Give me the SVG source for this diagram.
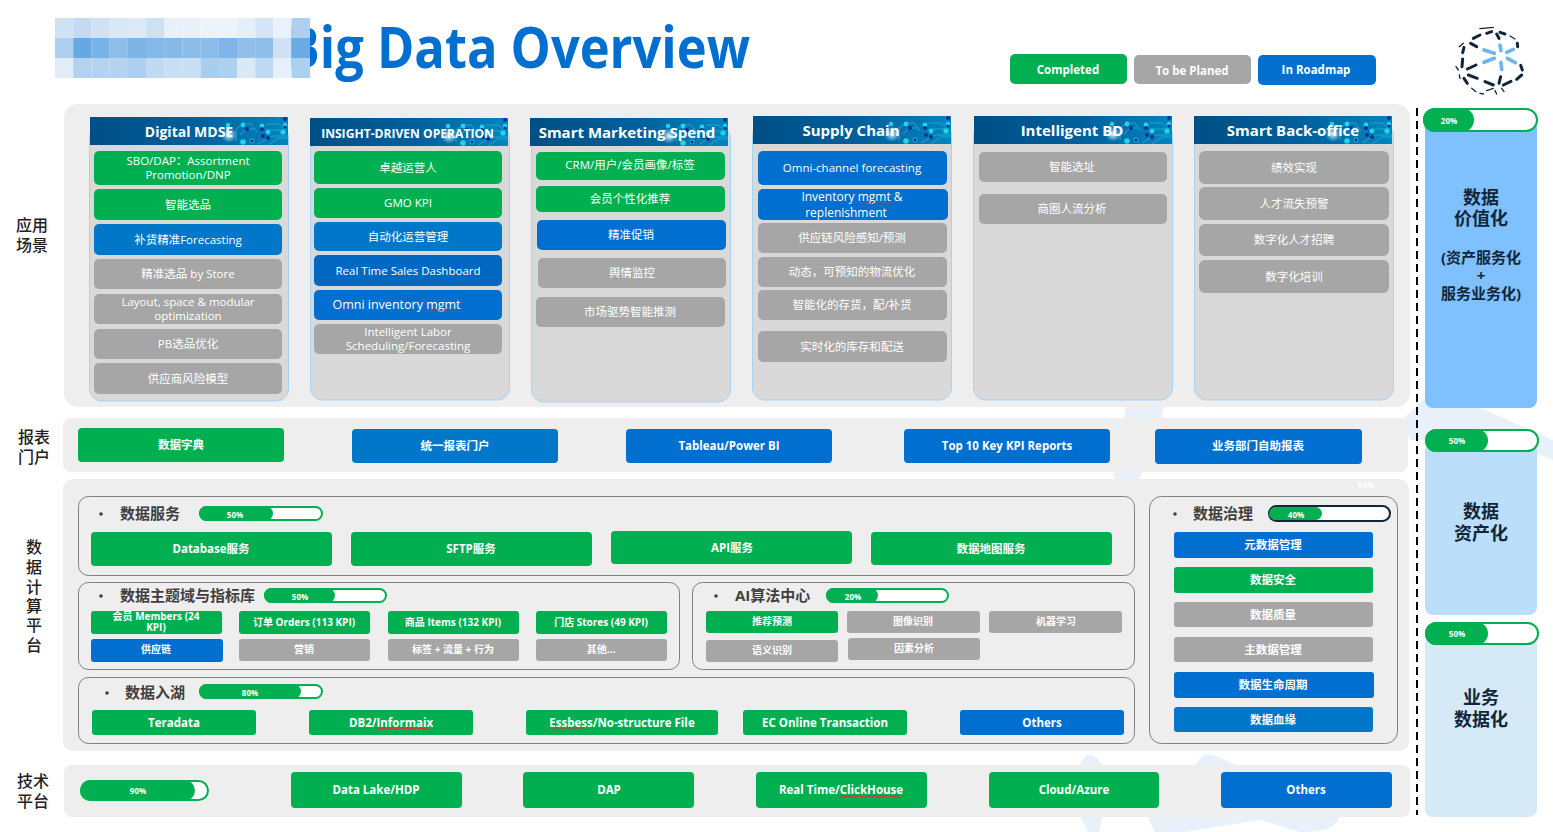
<svg xmlns="http://www.w3.org/2000/svg" xmlns:xlink="http://www.w3.org/1999/xlink" width="1553" height="832" viewBox="0 0 1553 832">
<style>
text{font-family:"Open Sans","Noto Sans CJK SC",sans-serif;text-anchor:middle;dominant-baseline:central;transform:translateY(-1px)}
.t{fill:#fff;font-size:11.5px}
.b{fill:#fff;font-size:11.5px;font-weight:700}
.s{fill:#fff;font-size:10px;font-weight:700}
.h{fill:#fff;font-size:15px;font-weight:700}
.lab{fill:#222;font-size:16px;font-weight:500}
.sec{fill:#404040;font-size:15px;font-weight:700;text-anchor:start}
.dot{fill:#404040}
.side{fill:#12263a;font-size:18px;font-weight:700}
.g{fill:#00b050}.e{fill:#a6a6a6}.u{fill:#006fd0}.c{fill:#0077c8}
.panel{fill:#eeeeee}
.col{fill:#d9d9d9;stroke:#a3d4f5;stroke-width:1}
.box{fill:none;stroke:#808080;stroke-width:1}
.bar{fill:#fff;stroke:#00b050;stroke-width:2}
.pct{fill:#fff;font-size:8px;font-weight:700}
.sq{fill:none;stroke:#e03030;stroke-width:1}
.d1{stroke:#12263a;stroke-width:9;stroke-linecap:round;fill:none}
.d0{stroke:#12263a;stroke-width:4;stroke-linecap:round;fill:none}
.d2{stroke:#6fb6ea;stroke-width:11;stroke-linecap:round;fill:none}
.wm{fill:#e8f1f9}
</style>
<defs>
<linearGradient id="hg" x1="0" x2="1" y1="0" y2="0"><stop offset="0" stop-color="#004f85"/><stop offset=".55" stop-color="#00609c"/><stop offset="1" stop-color="#0085bf"/></linearGradient>
<radialGradient id="gl"><stop offset="0" stop-color="#fff" stop-opacity=".95"/><stop offset="1" stop-color="#9fe0ff" stop-opacity="0"/></radialGradient>
<g id="circuit">
<rect width="198" height="28" fill="url(#hg)"/>
<g fill="none" stroke="#19a9d0" stroke-width="1"><path d="M146 24V12l7-5h8l6 8M150 18l6-6h8M168 27l14-8h16M178 28l10-7h10M176 7h12l8 6M180 13h14"/></g>
<g fill="#1fd5e8"><circle cx="138" cy="8" r="2.200"/><circle cx="153" cy="8" r="2.400"/><circle cx="172" cy="9" r="2.400"/><circle cx="178" cy="15" r="2.400"/><circle cx="193" cy="15" r="2.600"/><circle cx="153" cy="25" r="2.800"/><circle cx="195" cy="8" r="2.200"/><circle cx="162" cy="24" r="2.400"/></g>
<g fill="#0a2f9a"><circle cx="157" cy="12" r="2"/><circle cx="172" cy="12" r="2"/><circle cx="173" cy="19" r="2"/><circle cx="178" cy="21" r="2"/><circle cx="162" cy="24" r="1.700"/><circle cx="195" cy="2" r="2"/><circle cx="195" cy="10" r="1.600"/></g>
<circle cx="139" cy="18" r="8" fill="url(#gl)"/>
</g>
<path id="squig" d="M0 1l2-1.500 2 1.500 2-1.500 2 1.500 2-1.500 2 1.500 2-1.500 2 1.500 2-1.500 2 1.500 2-1.500 2 1.500 2-1.500 2 1.500 2-1.500 2 1.500 2-1.500 2 1.500 2-1.500 2 1.500 2-1.500 2 1.500"/>
</defs>
<rect width="1553" height="832" fill="#fff"/>

<g id="watermark">
<path class="wm" d="M1127 400H1165L1160 425 1140 478C1130 482 1118 482 1113 476Z"/>
<path class="wm" d="M1402 420 1425 398 1483 409 1553 440V460L1500 440H1410Z"/>
<path class="wm" d="M1078 770C1085 750 1095 750 1105 770V800L1099 832H1088L1078 812Z"/>
<path class="wm" d="M1195 770C1198 752 1210 752 1225 760L1340 812C1340 825 1330 832 1300 832L1260 820 1185 832H1155L1145 812Z"/>
</g>

<g id="title">
<g transform="translate(750 47) scale(.888 1)"><text x="0" y="0" style="text-anchor:end;fill:#006fd0;font-size:57px;font-weight:700;font-family:'Open Sans',sans-serif">Big Data Overview</text></g>
<g id="mosaic">
<rect x="55" y="18" width="18.300" height="20" fill="#cfe1f4"/><rect x="73.200" y="18" width="18.300" height="20" fill="#c4daf3"/><rect x="91.400" y="18" width="18.300" height="20" fill="#cfe2f5"/><rect x="109.600" y="18" width="18.300" height="20" fill="#d9e8f6"/><rect x="127.800" y="18" width="18.300" height="20" fill="#dde9f7"/><rect x="146" y="18" width="18.300" height="20" fill="#cde1f5"/><rect x="164.200" y="18" width="18.300" height="20" fill="#e8f1fa"/><rect x="182.400" y="18" width="18.300" height="20" fill="#e8f1fa"/><rect x="200.600" y="18" width="18.300" height="20" fill="#ecf4fb"/><rect x="218.800" y="18" width="18.300" height="20" fill="#ecf4fb"/><rect x="237" y="18" width="18.300" height="20" fill="#e4eff9"/><rect x="255.200" y="18" width="18.300" height="20" fill="#d3e5f6"/><rect x="273.400" y="18" width="18.300" height="20" fill="#e9f2fb"/><rect x="291.600" y="18" width="18.400" height="20" fill="#aecfef"/>
<rect x="55" y="38" width="18.300" height="20" fill="#aecfef"/><rect x="73.200" y="38" width="18.300" height="20" fill="#66a9e2"/><rect x="91.400" y="38" width="18.300" height="20" fill="#7ab4e6"/><rect x="109.600" y="38" width="18.300" height="20" fill="#8fbde9"/><rect x="127.800" y="38" width="18.300" height="20" fill="#7cb5e6"/><rect x="146" y="38" width="18.300" height="20" fill="#84b9e8"/><rect x="164.200" y="38" width="18.300" height="20" fill="#84b9e8"/><rect x="182.400" y="38" width="18.300" height="20" fill="#8cbde8"/><rect x="200.600" y="38" width="18.300" height="20" fill="#8cbde8"/><rect x="218.800" y="38" width="18.300" height="20" fill="#80b6e7"/><rect x="237" y="38" width="18.300" height="20" fill="#90bfe9"/><rect x="255.200" y="38" width="18.300" height="20" fill="#8fbee9"/><rect x="273.400" y="38" width="18.300" height="20" fill="#cfe1f5"/><rect x="291.600" y="38" width="18.400" height="20" fill="#6aabe3"/>
<rect x="55" y="58" width="18.300" height="20" fill="#e0ecf8"/><rect x="73.200" y="58" width="18.300" height="20" fill="#b3d2f0"/><rect x="91.400" y="58" width="18.300" height="20" fill="#b5d3f0"/><rect x="109.600" y="58" width="18.300" height="20" fill="#b5d3f0"/><rect x="127.800" y="58" width="18.300" height="20" fill="#aecff0"/><rect x="146" y="58" width="18.300" height="20" fill="#c0daf2"/><rect x="164.200" y="58" width="18.300" height="20" fill="#c8def3"/><rect x="182.400" y="58" width="18.300" height="20" fill="#c8def3"/><rect x="200.600" y="58" width="18.300" height="20" fill="#a8cdee"/><rect x="218.800" y="58" width="18.300" height="20" fill="#acd0ef"/><rect x="237" y="58" width="18.300" height="20" fill="#dbe9f7"/><rect x="255.200" y="58" width="18.300" height="20" fill="#bfd9f2"/><rect x="273.400" y="58" width="18.300" height="20" fill="#e5f0fa"/><rect x="291.600" y="58" width="18.400" height="20" fill="#acd0ef"/>
</g>
</g>

<g id="legend">
<g id="legend-completed"><rect class="g" x="1010" y="54" width="117" height="30" rx="5"/><text class="b" x="1068" y="70">Completed</text></g>
<g id="legend-planed"><rect class="e" x="1134" y="55" width="117" height="29" rx="5"/><text class="b" x="1192" y="71">To be Planed</text></g>
<g id="legend-roadmap"><rect class="u" x="1258" y="55" width="118" height="30" rx="5"/><text class="b" x="1316" y="70">In Roadmap</text></g>
</g>

<g id="logo" transform="translate(1440 20) scale(.3333)">
<path class="d2" d="M180 75 183 92M200 97 220 88M202 115 226 128M183 127 185 148M132 127 163 115M132 90 163 100"/>
<path class="d1" d="M100 55 120 45M140 40 155 35M170 42 177 55M180 37 195 42M232 70 233 80M92 70 110 80M72 82 68 98M68 117 66 140M82 147 108 135M85 165 112 175M72 175 82 190M135 185 160 195M182 170 177 190M190 195 213 184M230 178 245 165M242 136 247 150"/>
<path class="d0" d="M210 48 225 57M58 80 70 70M48 140 55 150M58 165 60 175M140 212 160 205M165 212 170 222M95 205 108 215M185 205 192 215M120 26 160 22M120 220 130 222"/>
</g>

<g id="side-labels">
<g id="lab-app"><text class="lab" x="32" y="226">应用</text><text class="lab" x="32" y="246">场景</text></g>
<g id="lab-report"><text class="lab" x="34" y="438">报表</text><text class="lab" x="34" y="458">门户</text></g>
<g id="lab-compute"><text class="lab" x="34" y="548">数</text><text class="lab" x="34" y="568">据</text><text class="lab" x="34" y="588">计</text><text class="lab" x="34" y="607">算</text><text class="lab" x="34" y="626">平</text><text class="lab" x="34" y="646">台</text></g>
<g id="lab-tech"><text class="lab" x="33" y="782">技术</text><text class="lab" x="33" y="802">平台</text></g>
</g>

<rect id="panel-app" class="panel" x="64" y="104" width="1346" height="303" rx="14"/>
<rect id="panel-report" class="panel" x="63" y="418" width="1345" height="54" rx="8"/>
<rect id="panel-platform" class="panel" x="63" y="479" width="1346" height="272" rx="10"/>
<rect id="panel-tech" class="panel" x="64" y="765" width="1346" height="52" rx="8"/>

<g id="col-1">
<rect class="col" x="89.500" y="125" width="199" height="276" rx="12"/><use xlink:href="#circuit" href="#circuit" x="90" y="117"/><text class="h" x="189" y="132" style="font-size:14px">Digital MDSE</text>
<rect class="g" x="94" y="151" width="188" height="34" rx="5"/><text class="t" x="188" y="161">SBO/DAP：Assortment</text><text class="t" x="188" y="175">Promotion/DNP</text>
<rect class="g" x="94" y="189" width="188" height="31" rx="5"/><text class="t" x="188" y="205">智能选品</text>
<rect class="c" x="94" y="224" width="188" height="31" rx="5"/><text class="t" x="188" y="240">补货精准Forecasting</text>
<rect class="e" x="94" y="259" width="188" height="30" rx="5"/><text class="t" x="188" y="274">精准选品 by Store</text>
<rect class="e" x="94" y="294" width="188" height="30" rx="5"/><text class="t" x="188" y="302">Layout, space &amp; modular</text><text class="t" x="188" y="316">optimization</text>
<rect class="e" x="94" y="329" width="188" height="30" rx="5"/><text class="t" x="188" y="344">PB选品优化</text>
<rect class="e" x="94" y="363" width="188" height="31" rx="5"/><text class="t" x="188" y="379">供应商风险模型</text>
</g>

<g id="col-2">
<rect class="col" x="310.500" y="126" width="199" height="274" rx="12"/><use xlink:href="#circuit" href="#circuit" x="310" y="118"/><text class="h" x="407.500" y="134" style="font-size:12.100px">INSIGHT-DRIVEN OPERATION</text>
<rect class="g" x="314" y="151" width="188" height="33" rx="5"/><text class="t" x="408" y="168">卓越运营人</text>
<rect class="g" x="314" y="188" width="188" height="30" rx="5"/><text class="t" x="408" y="203">GMO KPI</text>
<rect class="c" x="314" y="222" width="188" height="29" rx="5"/><text class="t" x="408" y="237">自动化运营管理</text>
<rect fill="#0068c0" x="314" y="255" width="188" height="31" rx="5"/><text class="t" x="408" y="271">Real Time Sales Dashboard</text>
<rect class="u" x="314" y="290" width="188" height="30" rx="5"/><text class="t" x="396.500" y="305" style="font-size:12.500px">Omni inventory mgmt</text><use xlink:href="#squig" href="#squig" class="sq" transform="translate(425 311) scale(.73 1)"/>
<rect class="e" x="314" y="324" width="188" height="30" rx="5"/><text class="t" x="408" y="332">Intelligent  Labor</text><text class="t" x="408" y="346">Scheduling/Forecasting</text>
</g>

<g id="col-3">
<rect class="col" x="531.500" y="126" width="199" height="276" rx="12"/><use xlink:href="#circuit" href="#circuit" x="530" y="118"/><text class="h" x="627" y="133">Smart Marketing Spend</text>
<rect class="g" x="536" y="152" width="189" height="28" rx="5"/><text class="t" x="630" y="165">CRM/用户/会员画像/标签</text>
<rect class="g" x="536" y="186" width="189" height="26" rx="5"/><text class="t" x="630" y="199">会员个性化推荐</text>
<rect class="u" x="537" y="220" width="189" height="30" rx="5"/><text class="t" x="631" y="235">精准促销</text>
<rect class="e" x="538" y="258" width="188" height="30" rx="5"/><text class="t" x="632" y="273">舆情监控</text>
<rect class="e" x="536" y="297" width="189" height="30" rx="5"/><text class="t" x="630" y="312">市场驱势智能推测</text>
</g>

<g id="col-4">
<rect class="col" x="752.500" y="124" width="199" height="276" rx="12"/><use xlink:href="#circuit" href="#circuit" x="753" y="116"/><text class="h" x="851" y="131">Supply Chain</text>
<rect class="u" x="758" y="151" width="189" height="34" rx="5"/><text class="t" x="852" y="168">Omni-channel forecasting</text>
<rect class="u" x="758" y="189" width="190" height="31" rx="5"/><text class="t" x="852" y="197" style="font-size:12px">Inventory mgmt &amp;</text><text class="t" x="846" y="213" style="font-size:12px">replenishment</text><use xlink:href="#squig" href="#squig" class="sq" transform="translate(858 203) scale(.8 1)"/>
<rect class="e" x="758" y="223" width="189" height="30" rx="5"/><text class="t" x="852" y="238">供应链风险感知/预测</text>
<rect class="e" x="758" y="257" width="189" height="30" rx="5"/><text class="t" x="852" y="272">动态，可预知的物流优化</text>
<rect class="e" x="758" y="290" width="189" height="30" rx="5"/><text class="t" x="852" y="305">智能化的存货，配/补货</text>
<rect class="e" x="758" y="331" width="189" height="31" rx="5"/><text class="t" x="852" y="347">实时化的库存和配送</text>
</g>

<g id="col-5">
<rect class="col" x="973.500" y="124" width="199" height="276" rx="12"/><use xlink:href="#circuit" href="#circuit" x="974" y="116"/><text class="h" x="1072" y="131">Intelligent BD</text>
<rect class="e" x="979" y="152" width="188" height="30" rx="5"/><text class="t" x="1072" y="167">智能选址</text>
<rect class="e" x="979" y="194" width="188" height="30" rx="5"/><text class="t" x="1072" y="209">商圈人流分析</text>
</g>

<g id="col-6">
<rect class="col" x="1194.500" y="124" width="199" height="276" rx="12"/><use xlink:href="#circuit" href="#circuit" x="1194" y="116"/><text class="h" x="1293" y="131">Smart Back-office</text>
<rect class="e" x="1199" y="151" width="190" height="33" rx="6"/><text class="t" x="1294" y="168">绩效实现</text>
<rect class="e" x="1199" y="187" width="190" height="33" rx="6"/><text class="t" x="1294" y="204">人才流失预警</text>
<rect class="e" x="1199" y="224" width="190" height="32" rx="6"/><text class="t" x="1294" y="240">数字化人才招聘</text>
<rect class="e" x="1199" y="260" width="190" height="33" rx="6"/><text class="t" x="1294" y="277">数字化培训</text>
</g>

<g id="reports">
<g id="rep-1"><rect class="g" x="78" y="428" width="206" height="34" rx="4"/><text class="b" x="181" y="445">数据字典</text></g>
<g id="rep-2"><rect class="c" x="352" y="429" width="206" height="34" rx="4"/><text class="b" x="455" y="446">统一报表门户</text></g>
<g id="rep-3"><rect class="u" x="626" y="429" width="206" height="34" rx="4"/><text class="b" x="729" y="446">Tableau/Power BI</text></g>
<g id="rep-4"><rect class="u" x="904" y="429" width="206" height="34" rx="4"/><text class="b" x="1007" y="446">Top 10 Key KPI Reports</text></g>
<g id="rep-5"><rect class="u" x="1155" y="429" width="207" height="35" rx="4"/><text class="b" x="1258" y="446">业务部门自助报表</text></g>
</g>

<g id="data-service">
<rect class="box" x="78.500" y="496.500" width="1056" height="79" rx="10"/>
<circle class="dot" cx="101" cy="514" r="1.800"/><text class="sec" x="120" y="514">数据服务</text>
<rect class="bar" x="200" y="507" width="122" height="13" rx="6.500"/><rect class="g" x="199" y="506" width="74" height="15" rx="7.500"/><text class="pct" x="235" y="515">50%</text>
<rect class="g" x="91" y="532" width="241" height="34" rx="4"/><text class="b" x="211" y="549">Database服务</text>
<rect class="g" x="351" y="532" width="241" height="34" rx="4"/><text class="b" x="471" y="549">SFTP服务</text>
<rect class="g" x="611" y="531" width="241" height="33" rx="4"/><text class="b" x="732" y="548">API服务</text>
<rect class="g" x="871" y="532" width="241" height="33" rx="4"/><text class="b" x="991" y="549">数据地图服务</text>
<text class="pct" x="1366" y="485">50%</text>
</g>

<g id="data-domain">
<rect class="box" x="78.500" y="582.500" width="601" height="87" rx="10"/>
<circle class="dot" cx="101" cy="596" r="1.800"/><text class="sec" x="120" y="596">数据主题域与指标库</text>
<rect class="bar" x="265" y="589" width="121" height="13" rx="6.500"/><rect class="g" x="264" y="588" width="71" height="15" rx="7.500"/><text class="pct" x="300" y="597">50%</text>
<rect class="g" x="91" y="611" width="131" height="23" rx="3"/><text class="s" x="156" y="617">会员 Members (24</text><text class="s" x="156" y="628">KPI)</text>
<rect class="g" x="239" y="611" width="131" height="23" rx="3"/><text class="s" x="304" y="623">订单 Orders (113 KPI)</text>
<rect class="g" x="388" y="611" width="131" height="23" rx="3"/><text class="s" x="453" y="623">商品 Items (132 KPI)</text>
<rect class="g" x="536" y="611" width="131" height="23" rx="3"/><text class="s" x="601" y="623">门店 Stores (49 KPI)</text>
<rect class="u" x="91" y="639" width="132" height="23" rx="3"/><text class="s" x="156" y="650">供应链</text>
<rect class="e" x="239" y="639" width="131" height="22" rx="3"/><text class="s" x="304" y="650">营销</text>
<rect class="e" x="388" y="639" width="131" height="22" rx="3"/><text class="s" x="453" y="650">标签 + 流量 + 行为</text>
<rect class="e" x="536" y="639" width="131" height="22" rx="3"/><text class="s" x="601" y="650">其他...</text>
</g>

<g id="ai-center">
<rect class="box" x="692.500" y="582.500" width="442" height="87" rx="10"/>
<circle class="dot" cx="716" cy="596" r="1.800"/><text class="sec" x="735" y="596">AI算法中心</text>
<rect class="bar" x="827" y="589" width="121" height="13" rx="6.500"/><rect class="g" x="826" y="588" width="52" height="15" rx="7.500"/><text class="pct" x="853" y="597">20%</text>
<rect class="g" x="706" y="611" width="132" height="22" rx="3"/><text class="s" x="772" y="622">推荐预测</text>
<rect class="e" x="847" y="611" width="133" height="22" rx="3"/><text class="s" x="913" y="622">图像识别</text>
<rect class="e" x="989" y="611" width="133" height="22" rx="3"/><text class="s" x="1056" y="622">机器学习</text>
<rect class="e" x="706" y="640" width="132" height="22" rx="3"/><text class="s" x="772" y="651">语义识别</text>
<rect class="e" x="848" y="638" width="132" height="22" rx="3"/><text class="s" x="914" y="649">因素分析</text>
</g>

<g id="data-lake">
<rect class="box" x="78.500" y="677.500" width="1056" height="66" rx="10"/>
<circle class="dot" cx="107" cy="693" r="1.800"/><text class="sec" x="125" y="693">数据入湖</text>
<rect class="bar" x="200" y="685" width="122" height="13" rx="6.500"/><rect class="g" x="199" y="684" width="102" height="15" rx="7.500"/><text class="pct" x="250" y="693">80%</text>
<rect class="g" x="92" y="710" width="164" height="25" rx="3"/><text class="b" x="174" y="723">Teradata</text>
<rect class="g" x="309" y="710" width="164" height="25" rx="3"/><text class="b" x="391" y="723">DB2/Informaix</text><use xlink:href="#squig" href="#squig" class="sq" transform="translate(377 728) scale(1.170 1)"/>
<rect class="g" x="526" y="710" width="192" height="25" rx="3"/><text class="b" x="622" y="723">Essbess/No-structure File</text><use xlink:href="#squig" href="#squig" class="sq" transform="translate(549 728) scale(.8 1)"/>
<rect class="g" x="743" y="710" width="164" height="25" rx="3"/><text class="b" x="825" y="723">EC Online Transaction</text>
<rect class="u" x="960" y="710" width="164" height="25" rx="3"/><text class="b" x="1042" y="723">Others</text>
</g>

<g id="governance">
<rect class="box" x="1149.500" y="496.500" width="248" height="247" rx="12"/>
<circle class="dot" cx="1175" cy="514" r="1.800"/><text class="sec" x="1193" y="514">数据治理</text>
<rect x="1269" y="506" width="121" height="15" rx="7.500" fill="#fff" stroke="#12263a" stroke-width="2"/><rect class="g" x="1269" y="507" width="53" height="13" rx="6.500"/><text class="pct" x="1296" y="515">40%</text>
<rect class="u" x="1174" y="532" width="199" height="26" rx="3"/><text class="b" x="1273" y="545">元数据管理</text>
<rect class="g" x="1174" y="567" width="199" height="26" rx="3"/><text class="b" x="1273" y="580">数据安全</text>
<rect class="e" x="1174" y="602" width="199" height="25" rx="3"/><text class="b" x="1273" y="615">数据质量</text>
<rect class="e" x="1174" y="637" width="199" height="25" rx="3"/><text class="b" x="1273" y="650">主数据管理</text>
<rect class="u" x="1174" y="672" width="200" height="26" rx="3"/><text class="b" x="1273" y="685">数据生命周期</text>
<rect class="c" x="1174" y="707" width="199" height="25" rx="3"/><text class="b" x="1273" y="720">数据血缘</text>
</g>

<g id="tech">
<rect class="bar" x="81" y="781" width="127" height="19" rx="9.500"/><rect class="g" x="80" y="780" width="115" height="21" rx="10.500"/><text class="pct" x="138" y="791">90%</text>
<g id="tech-1"><rect class="g" x="291" y="772" width="171" height="36" rx="4"/><text class="b" x="376" y="790">Data Lake/HDP</text></g>
<g id="tech-2"><rect class="g" x="523" y="772" width="171" height="36" rx="4"/><text class="b" x="609" y="790">DAP</text></g>
<g id="tech-3"><rect class="g" x="756" y="772" width="171" height="36" rx="4"/><text class="b" x="841" y="790">Real Time/ClickHouse</text><use xlink:href="#squig" href="#squig" class="sq" transform="translate(840 796) scale(1.350 1)"/></g>
<g id="tech-4"><rect class="g" x="989" y="772" width="170" height="36" rx="4"/><text class="b" x="1074" y="790">Cloud/Azure</text></g>
<g id="tech-5"><rect class="u" x="1221" y="772" width="171" height="36" rx="4"/><text class="b" x="1306" y="790">Others</text></g>
</g>

<line id="divider" x1="1417" y1="108" x2="1417" y2="815" stroke="#000" stroke-width="2" stroke-dasharray="8 5"/>

<g id="value-1">
<rect x="1425" y="120" width="112" height="288" rx="8" fill="#7fc1ff"/>
<rect class="bar" x="1424" y="109" width="113" height="22" rx="11"/><rect class="g" x="1423" y="108" width="51" height="24" rx="12"/><text class="pct" x="1449" y="121">20%</text>
<text class="side" x="1481" y="198">数据</text><text class="side" x="1481" y="219">价值化</text>
<text class="side" x="1481" y="258" style="font-size:15px">(资产服务化</text><text class="side" x="1481" y="276" style="font-size:15px">+</text><text class="side" x="1481" y="294" style="font-size:15px">服务业务化)</text>
</g>
<g id="value-2">
<rect x="1425" y="443" width="112" height="172" rx="8" fill="#bbdefb"/>
<rect class="bar" x="1426" y="430" width="112" height="21" rx="10.500"/><rect class="g" x="1425" y="429" width="63" height="23" rx="11.500"/><text class="pct" x="1457" y="441">50%</text>
<text class="side" x="1481" y="512">数据</text><text class="side" x="1481" y="534">资产化</text>
</g>
<g id="value-3">
<rect x="1425" y="635" width="112" height="182" rx="8" fill="#d6e9f7"/>
<rect class="bar" x="1426" y="623" width="112" height="21" rx="10.500"/><rect class="g" x="1425" y="622" width="63" height="23" rx="11.500"/><text class="pct" x="1457" y="634">50%</text>
<text class="side" x="1481" y="698">业务</text><text class="side" x="1481" y="720">数据化</text>
</g>
</svg>
